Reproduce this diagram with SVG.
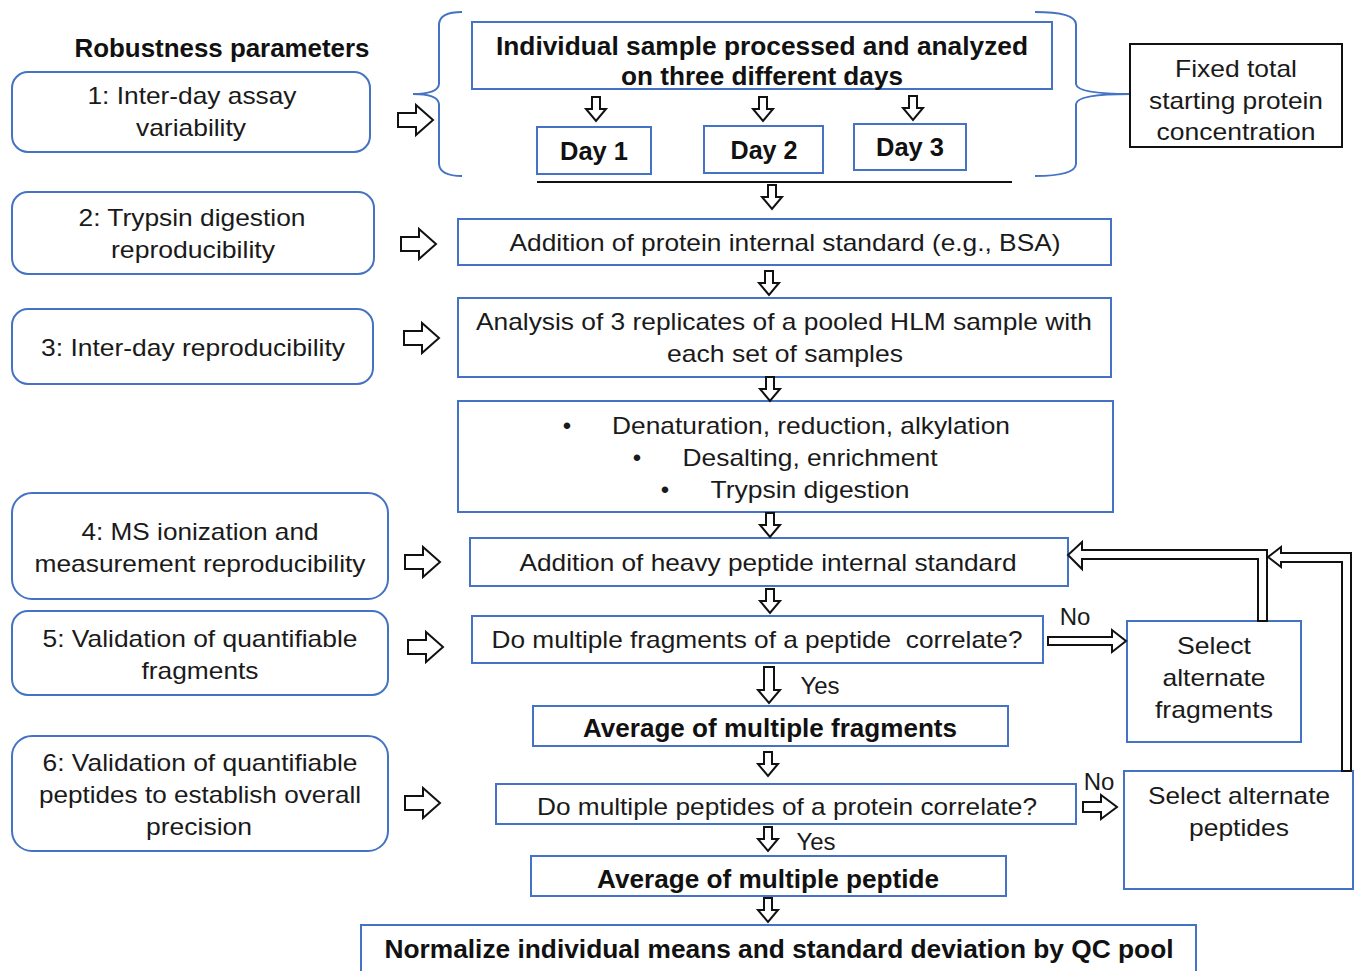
<svg xmlns="http://www.w3.org/2000/svg" xmlns:xlink="http://www.w3.org/1999/xlink" width="1357" height="971" viewBox="0 0 1357 971">
<style>
.b{fill:#fff;stroke:#4472C4;stroke-width:2}
.k{fill:#fff;stroke:#111;stroke-width:2}
.t{font-family:"Liberation Sans",Arial,sans-serif;font-size:24px;fill:#1a1a1a;text-anchor:middle}
.tb{font-family:"Liberation Sans",Arial,sans-serif;font-size:25px;font-weight:bold;fill:#111;text-anchor:middle}
.ar{fill:#fff;stroke:#111;stroke-width:2;stroke-linejoin:miter}
.br{fill:none;stroke:#4472C4;stroke-width:2}
</style>
<defs>
<path id="ra" d="M0,-7 L18,-7 L18,-15 L35,0 L18,15 L18,7 L0,7 Z"/>
<path id="da" d="M-4,0 L4,0 L4,12 L10,12 L0,24 L-10,12 L-4,12 Z"/>
<path id="ya" d="M-5,0 L5,0 L5,23 L11,23 L0,36 L-11,23 L-5,23 Z"/>
</defs>
<rect width="1357" height="971" fill="#fff"/>

<text class="tb" x="222" y="57" textLength="295" lengthAdjust="spacingAndGlyphs">Robustness parameters</text>

<g id="p1"><rect class="b" x="12" y="72" width="358" height="80" rx="16"/>
<text class="t" x="192" y="104" textLength="209" lengthAdjust="spacingAndGlyphs">1: Inter-day assay</text>
<text class="t" x="191" y="136" textLength="110" lengthAdjust="spacingAndGlyphs">variability</text></g>
<g id="p2"><rect class="b" x="12" y="192" width="362" height="82" rx="16"/>
<text class="t" x="192" y="226" textLength="227" lengthAdjust="spacingAndGlyphs">2: Trypsin digestion</text>
<text class="t" x="193" y="258" textLength="164" lengthAdjust="spacingAndGlyphs">reproducibility</text></g>
<g id="p3"><rect class="b" x="12" y="309" width="361" height="75" rx="16"/>
<text class="t" x="193" y="356" textLength="304" lengthAdjust="spacingAndGlyphs">3: Inter-day reproducibility</text></g>
<g id="p4"><rect class="b" x="12" y="493" width="376" height="106" rx="20"/>
<text class="t" x="200" y="540" textLength="237" lengthAdjust="spacingAndGlyphs">4: MS ionization and</text>
<text class="t" x="200" y="572" textLength="331" lengthAdjust="spacingAndGlyphs">measurement reproducibility</text></g>
<g id="p5"><rect class="b" x="12" y="611" width="376" height="84" rx="16"/>
<text class="t" x="200" y="647" textLength="315" lengthAdjust="spacingAndGlyphs">5: Validation of quantifiable</text>
<text class="t" x="200" y="679" textLength="117" lengthAdjust="spacingAndGlyphs">fragments</text></g>
<g id="p6"><rect class="b" x="12" y="736" width="376" height="115" rx="20"/>
<text class="t" x="200" y="771" textLength="315" lengthAdjust="spacingAndGlyphs">6: Validation of quantifiable</text>
<text class="t" x="200" y="803" textLength="322" lengthAdjust="spacingAndGlyphs">peptides to establish overall</text>
<text class="t" x="199" y="835" textLength="106" lengthAdjust="spacingAndGlyphs">precision</text></g>

<g id="braces">
<path class="br" d="M462,12 Q440,12 439,24 L439,84 Q438,94 413,94 Q438,94 439,104 L439,164 Q440,176 462,176"/>
<path class="br" d="M1035,12 Q1075,12 1076,24 L1076,84 Q1077,94 1130,94 Q1077,94 1076,104 L1076,164 Q1075,176 1035,176"/>
</g>

<g id="n_top"><rect class="b" x="472" y="22" width="580" height="67"/>
<text class="tb" x="762" y="55" textLength="532" lengthAdjust="spacingAndGlyphs">Individual sample processed and analyzed</text>
<text class="tb" x="762" y="85" textLength="282" lengthAdjust="spacingAndGlyphs">on three different days</text></g>
<g id="n_fixed"><rect class="k" x="1130" y="44" width="212" height="103"/>
<text class="t" x="1236" y="77" textLength="122" lengthAdjust="spacingAndGlyphs">Fixed total</text>
<text class="t" x="1236" y="109" textLength="174" lengthAdjust="spacingAndGlyphs">starting protein</text>
<text class="t" x="1236" y="140" textLength="159" lengthAdjust="spacingAndGlyphs">concentration</text></g>
<g id="n_day1"><rect class="b" x="537" y="127" width="114" height="47"/>
<text class="tb" x="594" y="160" textLength="68" lengthAdjust="spacingAndGlyphs">Day 1</text></g>
<g id="n_day2"><rect class="b" x="704" y="126" width="119" height="47"/>
<text class="tb" x="764" y="159" textLength="67" lengthAdjust="spacingAndGlyphs">Day 2</text></g>
<g id="n_day3"><rect class="b" x="854" y="124" width="112" height="46"/>
<text class="tb" x="910" y="156" textLength="68" lengthAdjust="spacingAndGlyphs">Day 3</text></g>

<g id="n_bsa"><rect class="b" x="458" y="219" width="653" height="46"/>
<text class="t" x="785" y="251" textLength="551" lengthAdjust="spacingAndGlyphs">Addition of protein internal standard (e.g., BSA)</text></g>
<g id="n_hlm"><rect class="b" x="458" y="298" width="653" height="79"/>
<text class="t" x="784" y="330" textLength="616" lengthAdjust="spacingAndGlyphs">Analysis of 3 replicates of a pooled HLM sample with</text>
<text class="t" x="785" y="362" textLength="236" lengthAdjust="spacingAndGlyphs">each set of samples</text></g>
<g id="n_steps"><rect class="b" x="458" y="401" width="655" height="111"/>
<text class="t" x="567" y="434">•</text><text class="t" x="811" y="434" textLength="398" lengthAdjust="spacingAndGlyphs">Denaturation, reduction, alkylation</text>
<text class="t" x="637" y="466">•</text><text class="t" x="810" y="466" textLength="255" lengthAdjust="spacingAndGlyphs">Desalting, enrichment</text>
<text class="t" x="665" y="498">•</text><text class="t" x="810" y="498" textLength="199" lengthAdjust="spacingAndGlyphs">Trypsin digestion</text></g>
<g id="n_heavy"><rect class="b" x="470" y="538" width="598" height="48"/>
<text class="t" x="768" y="571" textLength="497" lengthAdjust="spacingAndGlyphs">Addition of heavy peptide internal standard</text></g>
<g id="n_q1"><rect class="b" x="472" y="616" width="571" height="47"/>
<text class="t" x="757" y="648" textLength="531" lengthAdjust="spacingAndGlyphs" xml:space="preserve">Do multiple fragments of a peptide  correlate?</text></g>
<g id="n_saf"><rect class="b" x="1127" y="621" width="174" height="121"/>
<text class="t" x="1214" y="654" textLength="74" lengthAdjust="spacingAndGlyphs">Select</text>
<text class="t" x="1214" y="686" textLength="103" lengthAdjust="spacingAndGlyphs">alternate</text>
<text class="t" x="1214" y="718" textLength="118" lengthAdjust="spacingAndGlyphs">fragments</text></g>
<g id="n_avgf"><rect class="b" x="533" y="706" width="475" height="40"/>
<text class="tb" x="770" y="737" textLength="374" lengthAdjust="spacingAndGlyphs">Average of multiple fragments</text></g>
<g id="n_q2"><rect class="b" x="496" y="784" width="580" height="40"/>
<text class="t" x="787" y="815" textLength="500" lengthAdjust="spacingAndGlyphs">Do multiple peptides of a protein correlate?</text></g>
<g id="n_sap"><rect class="b" x="1124" y="771" width="229" height="118"/>
<text class="t" x="1239" y="804" textLength="182" lengthAdjust="spacingAndGlyphs">Select alternate</text>
<text class="t" x="1239" y="836" textLength="100" lengthAdjust="spacingAndGlyphs">peptides</text></g>
<g id="n_avgp"><rect class="b" x="531" y="856" width="475" height="40"/>
<text class="tb" x="768" y="888" textLength="342" lengthAdjust="spacingAndGlyphs">Average of multiple peptide</text></g>
<g id="n_norm"><rect class="b" x="361" y="925" width="835" height="60"/>
<text class="tb" x="779" y="958" textLength="789" lengthAdjust="spacingAndGlyphs">Normalize individual means and standard deviation by QC pool</text></g>

<g id="connectors">
<line x1="537" y1="182" x2="1012" y2="182" stroke="#111" stroke-width="2"/>
<use href="#ra" class="ar" x="398" y="120"/>
<use href="#ra" class="ar" x="401" y="244"/>
<use href="#ra" class="ar" x="404" y="338"/>
<use href="#ra" class="ar" x="405" y="562"/>
<use href="#ra" class="ar" x="408" y="647"/>
<use href="#ra" class="ar" x="405" y="803"/>
<use href="#da" class="ar" x="596" y="97"/>
<use href="#da" class="ar" x="763" y="97"/>
<use href="#da" class="ar" x="913" y="96"/>
<use href="#da" class="ar" x="772" y="185"/>
<use href="#da" class="ar" x="769" y="271"/>
<use href="#da" class="ar" x="770" y="377"/>
<use href="#da" class="ar" x="770" y="513"/>
<use href="#da" class="ar" x="770" y="589"/>
<use href="#ya" class="ar" x="769" y="667"/>
<use href="#da" class="ar" x="768" y="752"/>
<use href="#da" class="ar" x="768" y="827"/>
<use href="#da" class="ar" x="768" y="898"/>
<path class="ar" d="M1048,637 L1112,637 L1112,630 L1126,641 L1112,652 L1112,645 L1048,645 Z"/>
<path class="ar" d="M1083,802 L1101,802 L1101,795 L1117,807 L1101,819 L1101,812 L1083,812 Z"/>
<path class="ar" d="M1258,621 L1258,559 L1082,559 L1082,569 L1068,555 L1082,542 L1082,550 L1267,550 L1267,621 Z"/>
<path class="ar" d="M1342,771 L1342,562 L1281,562 L1281,567 L1268,557 L1281,547 L1281,553 L1351,553 L1351,771 Z"/>
<text class="t" x="1075" y="625">No</text>
<text class="t" x="1099" y="790">No</text>
<text class="t" x="820" y="694">Yes</text>
<text class="t" x="816" y="850">Yes</text>
</g>
</svg>
